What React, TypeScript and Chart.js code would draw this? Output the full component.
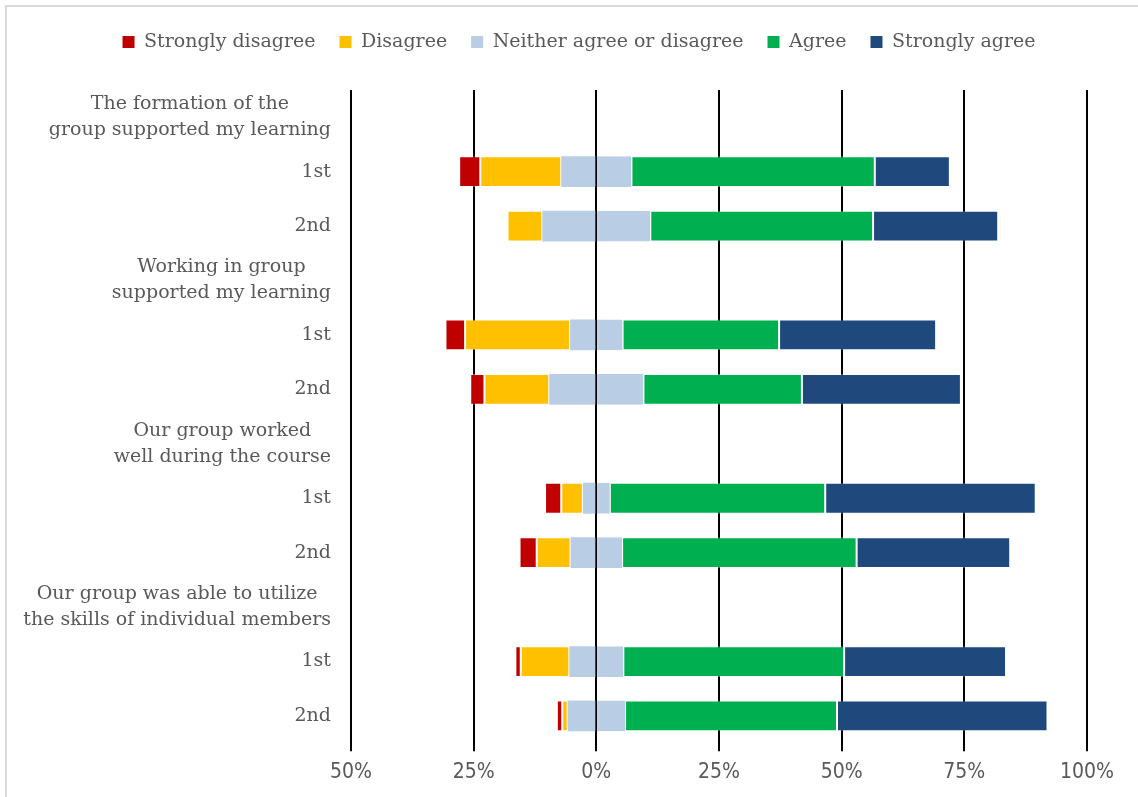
import React, { useEffect, useRef } from "react";
import { Chart, registerables } from "chart.js";

Chart.register(...registerables);

// ---- DATA ----
const categories: (string | string[])[] = [
  ["The formation of the", "group supported my learning"],
  "1st",
  "2nd",
  ["Working in group", "supported my learning"],
  "1st",
  "2nd",
  ["Our group worked", "well during the course"],
  "1st",
  "2nd",
  ["Our group was able to utilize", "the skills of individual members"],
  "1st",
  "2nd",
];

const seriesNames = [
  "Strongly disagree",
  "Disagree",
  "Neither agree or disagree",
  "Agree",
  "Strongly agree",
];

// percentages per row (null = heading row without a bar)
const stronglyDisagree = [null, 4.3, 0, null, 4.0, 2.9, null, 3.3, 3.5, null, 1.1, 1.1];
const disagree = [null, 16.5, 7.1, null, 21.4, 13.2, null, 4.4, 6.9, null, 9.9, 1.1];
const neither = [null, 14.3, 22.0, null, 10.7, 19.2, null, 5.5, 10.5, null, 11.0, 11.7];
const agree = [null, 49.6, 45.4, null, 31.9, 32.3, null, 43.9, 47.8, null, 45.0, 43.2];
const stronglyAgree = [null, 15.3, 25.5, null, 32.0, 32.4, null, 42.9, 31.3, null, 33.0, 42.9];

const xTickValues = [-50, -25, 0, 25, 50, 75, 100];
const xTickLabels = ["50%", "25%", "0%", "25%", "50%", "75%", "100%"];

const colors = ["#c00000", "#ffc000", "#b9cde5", "#00b050", "#1f497d"];

const SERIF = "'DejaVu Serif', serif";
const NARROW = "'Liberation Sans Narrow', 'DejaVu Sans Condensed', 'Liberation Sans', sans-serif";
const TEXT = "#595959";

const neg = (arr: (number | null)[]) => arr.map((v) => (v == null ? null : -v));
const half = (arr: (number | null)[], sign: number) =>
  arr.map((v) => (v == null ? null : (sign * v) / 2));

const LABEL_RIGHT = 331;

const yLabelPlugin = {
  id: "yLabels",
  afterDraw(chart: any) {
    const ctx = chart.ctx;
    const y = chart.scales.y;
    ctx.save();
    ctx.fillStyle = TEXT;
    ctx.font = `19px ${SERIF}`;
    ctx.textBaseline = "middle";
    categories.forEach((c, i) => {
      const py = y.getPixelForValue(i);
      if (Array.isArray(c)) {
        const maxW = Math.max(...c.map((l) => ctx.measureText(l).width));
        const cx = LABEL_RIGHT - maxW / 2;
        ctx.textAlign = "center";
        c.forEach((line, j) => {
          ctx.fillText(line, cx, py + (j - (c.length - 1) / 2) * 26);
        });
      } else {
        ctx.textAlign = "right";
        ctx.fillText(c, LABEL_RIGHT, py);
      }
    });
    ctx.restore();
  },
};

const framePlugin = {
  id: "frame",
  beforeDraw(chart: any) {
    const ctx = chart.ctx;
    ctx.save();
    ctx.fillStyle = "#ffffff";
    ctx.fillRect(0, 0, chart.width, chart.height);
    ctx.strokeStyle = "#d9d9d9";
    ctx.lineWidth = 2;
    ctx.beginPath();
    ctx.moveTo(6, chart.height);
    ctx.lineTo(6, 6);
    ctx.lineTo(chart.width, 6);
    ctx.stroke();
    ctx.restore();
  },
};

export default function App() {
  const ref = useRef<HTMLCanvasElement | null>(null);

  useEffect(() => {
    document.body.style.margin = "0";
    document.body.style.overflow = "hidden";
    const canvas = ref.current;
    if (!canvas) return;

    const faint = "rgba(255,255,255,0.35)";
    const common = {
      barPercentage: 0.565,
      categoryPercentage: 1,
      borderSkipped: false as const,
    };

    const datasets: any[] = [
      {
        label: seriesNames[2],
        data: half(neither, -1),
        backgroundColor: colors[2],
        borderWidth: 0,
        ...common,
      },
      {
        label: seriesNames[1],
        data: neg(disagree),
        backgroundColor: colors[1],
        borderColor: faint,
        borderWidth: 1,
        ...common,
      },
      {
        label: seriesNames[0],
        data: neg(stronglyDisagree),
        backgroundColor: colors[0],
        borderColor: faint,
        borderWidth: 1,
        ...common,
      },
      {
        label: seriesNames[2] + " ",
        data: half(neither, 1),
        backgroundColor: colors[2],
        borderColor: "#8a9ab0",
        borderWidth: { left: 1, top: 0, right: 0, bottom: 0 },
        ...common,
      },
      {
        label: seriesNames[3],
        data: agree,
        backgroundColor: colors[3],
        borderColor: faint,
        borderWidth: 1,
        ...common,
      },
      {
        label: seriesNames[4],
        data: stronglyAgree,
        backgroundColor: colors[4],
        borderColor: "rgba(255,255,255,0.25)",
        borderWidth: 1,
        ...common,
      },
    ];

    const legendRank: Record<number, number> = { 2: 0, 1: 1, 0: 2, 4: 3, 5: 4 };

    const chart = new Chart(canvas, {
      type: "bar",
      data: {
        labels: categories.map((c) => (Array.isArray(c) ? c.join(" ") : c)),
        datasets,
      },
      options: {
        indexAxis: "y",
        responsive: false,
        animation: false,
        devicePixelRatio: 1,
        layout: { padding: { left: 20, right: 0, top: 8.5, bottom: 2.6 } },
        scales: {
          x: {
            type: "linear",
            stacked: true,
            min: -50,
            max: 100,
            ticks: {
              stepSize: 25,
              color: TEXT,
              font: { family: NARROW, size: 21 },
              padding: 9,
              callback: (v: any) => {
                const i = xTickValues.indexOf(Number(v));
                return i >= 0 ? xTickLabels[i] : "";
              },
            },
            grid: {
              color: "#000000",
              lineWidth: 2,
              drawTicks: true,
              tickLength: 8,
            },
            border: { display: false },
          },
          y: {
            type: "category",
            stacked: true,
            grid: { display: false },
            border: { display: false },
            ticks: { display: false },
            afterFit: (s: any) => {
              s.width = LABEL_RIGHT;
            },
          },
          rightSpace: {
            type: "linear",
            position: "right",
            display: true,
            grid: { display: false },
            border: { display: false },
            ticks: { display: false },
            afterFit: (s: any) => {
              s.width = 51;
            },
          },
        },
        plugins: {
          tooltip: { enabled: false },
          title: {
            display: true,
            text: "",
            weight: 500,
            font: { size: 10 },
            padding: { top: 16.5, bottom: 0 },
          } as any,
          legend: {
            position: "top",
            labels: {
              boxWidth: 12,
              boxHeight: 12,
              padding: 24,
              color: TEXT,
              font: { family: SERIF, size: 19 },
              generateLabels: (ch: any) => {
                const items = Chart.defaults.plugins.legend.labels.generateLabels(ch);
                return items
                  .filter((it: any) => it.datasetIndex !== 3)
                  .map((it: any) => ({ ...it, lineWidth: 0, strokeStyle: "rgba(0,0,0,0)" }))
                  .sort((a: any, b: any) => legendRank[a.datasetIndex] - legendRank[b.datasetIndex]);
              },
            },
          },
        },
      } as any,
      plugins: [framePlugin, yLabelPlugin],
    });

    return () => chart.destroy();
  }, []);

  return (
    <div style={{ width: 1138, height: 797, position: "relative" }}>
      <canvas ref={ref} width={1138} height={797} style={{ display: "block" }} />
    </div>
  );
}
